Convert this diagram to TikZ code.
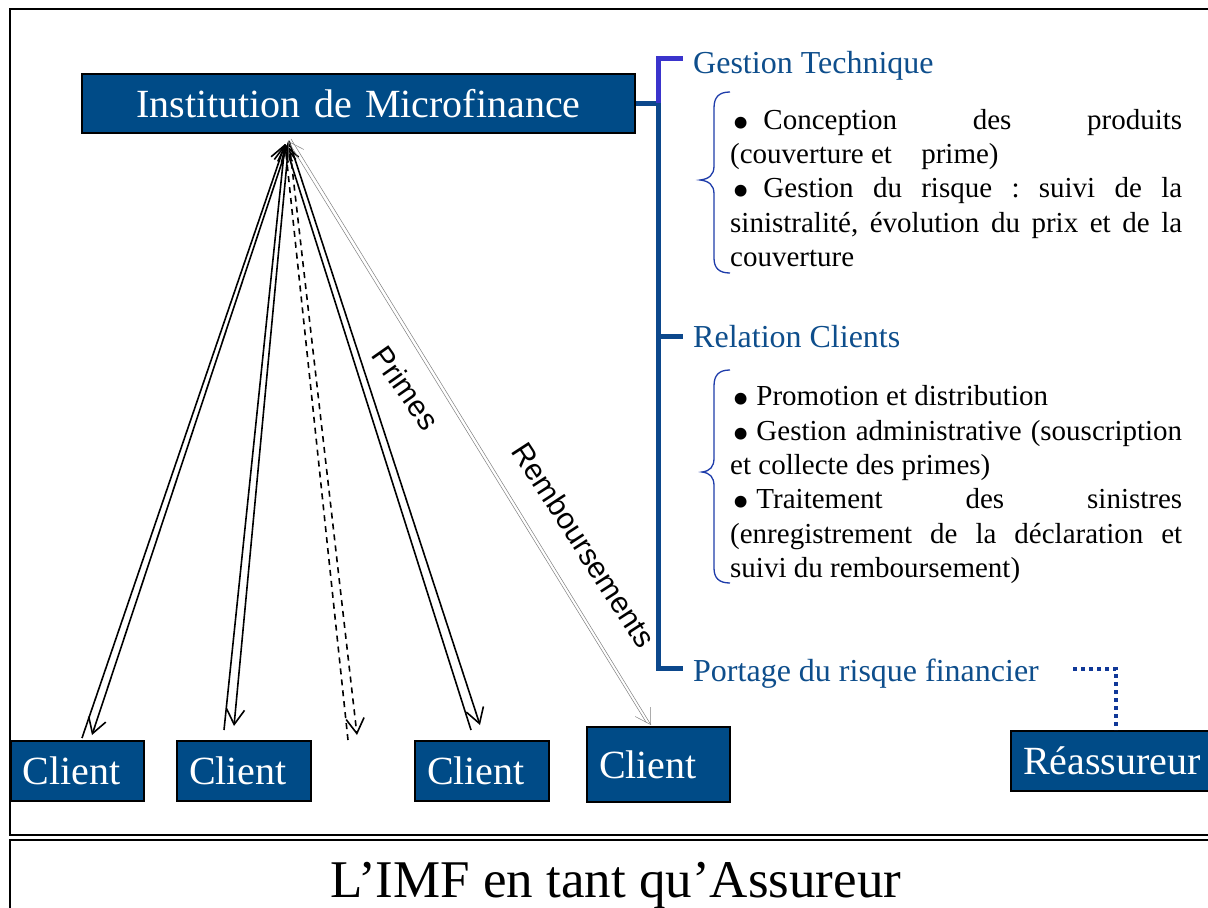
\documentclass[tikz,border=0pt]{standalone}
\usepackage{fontspec}
\setmainfont{Liberation Serif}
\newfontfamily\arialf{Liberation Sans}
\usetikzlibrary{arrows.meta,calc}
\definecolor{imfblue}{RGB}{0,75,135}
\definecolor{headblue}{RGB}{14,78,140}
\definecolor{treeblue}{RGB}{12,72,140}
\definecolor{topblue}{RGB}{58,52,204}
\definecolor{braceblue}{RGB}{30,60,170}
\definecolor{dotblue}{RGB}{16,56,152}
\newcommand{\bigbul}{\raisebox{-10pt}{\scalebox{1.7}{\textbullet}}}
\frenchspacing
\begin{document}
\begin{tikzpicture}[x=1pt,y=-1pt,
  box/.style={draw=black, line width=2pt, fill=imfblue, text=white,
    font=\fontsize{40}{40}\selectfont, inner xsep=12pt, inner ysep=0pt,
    align=left, anchor=north west},
  head/.style={anchor=base west, inner sep=0pt, text=headblue,
    font=\fontsize{32}{32}\selectfont},
  body/.style={anchor=base west, inner sep=0pt, font=\fontsize{29}{34}\selectfont},
  tree/.style={draw=treeblue, line width=5pt},
  treetop/.style={draw=topblue, line width=5pt},
  frame/.style={draw=black, line width=1.8pt},
  arr/.style={line width=1.6pt, -{Straight Barb[length=15pt,width=18pt]}},
  arrdash/.style={arr, dash pattern=on 6pt off 5pt},
  arrgray/.style={line width=0.5pt, draw=gray, -{Straight Barb[length=15pt,width=18pt]}},
  bracec/.style={draw=braceblue, line width=1.3pt},
  dotc/.style={draw=dotblue, line width=4pt, dash pattern=on 4pt off 4pt},
  lbl/.style={font=\arialf\fontsize{30}{30}\selectfont, inner sep=0pt}
]
\useasboundingbox (0,0) rectangle (1208,908);
\fill[white] (0,0) rectangle (1208,908);

% frames
\draw[frame] (1230,9) -- (10,9) -- (10,835) -- (1230,835);
\draw[frame] (1230,840) -- (10,840) -- (10,930);

% boxes
\node[box, text width=529pt, align=center, minimum height=59pt] (imf) at (81,73) {Institution de Microfinance};
\node[box, text width=109pt, minimum height=60pt] (c1) at (10,740) {Client};
\node[box, text width=110pt, minimum height=60pt] (c2) at (176,740) {Client};
\node[box, text width=110pt, minimum height=60pt] (c3) at (414,740) {Client};
\node[box, text width=119pt, minimum height=75pt] (c4) at (586,726) {Client};
\node[box, text width=186pt, minimum height=60pt] (reas) at (1010,730) {Réassureur};

% arrows
\coordinate (apU) at (285,144);
\coordinate (apD) at (289,141);
\coordinate (apG) at (291,139);
\coordinate (apG2) at (288,141);
\coordinate (u1) at (82,738);  \coordinate (d1) at (92,735);
\coordinate (u2) at (224,730); \coordinate (d2) at (234,726);
\coordinate (u3) at (348,740); \coordinate (d3) at (357,735);
\coordinate (u4) at (471,730); \coordinate (d4) at (480,725);
\coordinate (u5) at (646,722); \coordinate (d5) at (651,725);
\draw[arr] (u1) -- (apU);
\draw[arr] (apD) -- (d1);
\draw[arr] (u2) -- (apU);
\draw[arr] (apD) -- (d2);
\draw[arrdash] (u3) -- (apU);
\draw[arrdash] (apD) -- (d3);
\draw[arr] (u4) -- (apU);
\draw[arr] (apD) -- (d4);
\draw[arrgray] (u5) -- (apG2);
\draw[arrgray] (apG) -- (d5);

\node[lbl, rotate=-55] (primes) at (406,388) {Primes};
\node[lbl, rotate=-57] (remb) at (584,545) {Remboursements};

% tree
\coordinate (j) at (658,103);
\coordinate (gtk) at (683,58);
\coordinate (rtk) at (683,336);
\coordinate (ptk) at (683,668);
\draw[tree] (imf.east) -- (imf.east -| j);
\draw[treetop] (j) |- (gtk);
\draw[tree] (j) |- (ptk);
\draw[tree] (rtk -| j) -- (rtk);

% headings
\node[head] (gt) at (693,73) {Gestion Technique};
\node[head] (rc) at (693,347) {Relation Clients};
\node[head] (pr) at (693,681) {Portage du risque financier};

% dotted connector
\coordinate (ds) at (1073,669);
\draw[dotc] (ds) -| (reas.north);

% braces
\draw[bracec] (730,92) .. controls (719,92) and (714,97) .. (714,108) -- (714,166)
  .. controls (714,175) and (709,179) .. (700,180) .. controls (709,181) and (714,185) .. (714,194)
  -- (714,258) .. controls (714,268) and (719,273) .. (730,273);
\draw[bracec] (730,370) .. controls (719,370) and (714,375) .. (714,386) -- (714,458)
  .. controls (714,467) and (710,471) .. (702,472) .. controls (710,473) and (714,477) .. (714,486)
  -- (714,568) .. controls (714,578) and (719,583) .. (730,583);

% body text block 1
\node[body] (b1a) at (730,129) {\makebox[452pt][s]{\hspace{2pt}\bigbul\hspace{14pt}Conception des produits}};
\node[body] (b1b) at (730,163) {(couverture et\hspace{22pt} prime)};
\node[body] (b1c) at (730,197) {\makebox[452pt][s]{\hspace{2pt}\bigbul\hspace{14pt}Gestion du risque : suivi de la}};
\node[body] (b1d) at (730,232) {\makebox[452pt][s]{sinistralité, évolution du prix et de la}};
\node[body] (b1e) at (730,266) {couverture};

% body text block 2
\node[body] (b2a) at (730,405) {\hspace{2pt}\bigbul\hspace{7pt}Promotion et distribution};
\node[body] (b2b) at (730,440) {\makebox[452pt][s]{\hspace{2pt}\bigbul\hspace{7pt}Gestion administrative (souscription}};
\node[body] (b2c) at (730,474) {et collecte des primes)};
\node[body] (b2d) at (730,508) {\makebox[452pt][s]{\hspace{2pt}\bigbul\hspace{7pt}Traitement des sinistres}};
\node[body] (b2e) at (730,543) {\makebox[452pt][s]{(enregistrement de la déclaration et}};
\node[body] (b2f) at (730,577) {suivi du remboursement)};

% title
\node[anchor=base, inner sep=0pt, font=\fontsize{53}{53}\selectfont] (title) at (616,897) {L’IMF en tant qu’Assureur};
\end{tikzpicture}
\end{document}
